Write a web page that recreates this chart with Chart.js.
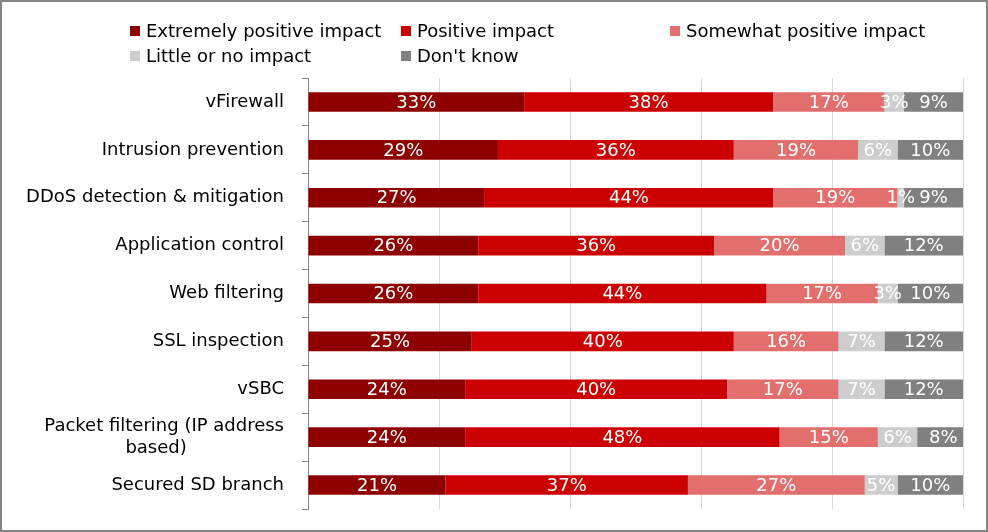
<!DOCTYPE html>
<html>
<head>
<meta charset="utf-8">
<script src="https://cdn.jsdelivr.net/npm/chart.js@4.4.1/dist/chart.umd.min.js"></script>
<style>
  body { margin: 0; background: #fff; }
  #wrap { position: relative; width: 988px; height: 532px; font-family: "DejaVu Sans", sans-serif; }
  #myChart { position: absolute; left: 0; top: 0; }
  #frame { position: absolute; left: 0; top: 0; right: 0; bottom: 0; border: 2px solid #858585; pointer-events: none; }
  .lg { position: absolute; font-size: 18px; color: #000; white-space: nowrap; line-height: 20px; }
  .lg i { position: absolute; left: -16px; top: 5px; width: 10px; height: 10px; }
</style>
</head>
<body>
<div id="wrap">
  <canvas id="myChart" width="988" height="532"></canvas>
  <div id="legend"></div>
  <div id="frame"></div>
</div>
<script>
// カテゴリ (y軸)
const categories = [
  'vFirewall',
  'Intrusion prevention',
  'DDoS detection & mitigation',
  'Application control',
  'Web filtering',
  'SSL inspection',
  'vSBC',
  ['Packet filtering (IP address', 'based)' + '\u00a0'.repeat(17)],
  'Secured SD branch',
];

// 系列名と値 (%)
const seriesNames = ['Extremely positive impact', 'Positive impact', 'Somewhat positive impact', 'Little or no impact', "Don't know"];
const extremelyPositive = [33, 29, 27, 26, 26, 25, 24, 24, 21];
const positive = [38, 36, 44, 36, 44, 40, 40, 48, 37];
const somewhatPositive = [17, 19, 19, 20, 17, 16, 17, 15, 27];
const littleOrNone = [3, 6, 1, 6, 3, 7, 7, 6, 5];
const dontKnow = [9, 10, 9, 12, 10, 12, 12, 8, 10];
const seriesColors = ['#8e0000', '#cc0000', '#e36e6e', '#cdcdcd', '#808080'];

const FONT = '"DejaVu Sans", sans-serif';

// バーの中央に白い%ラベルを描く
const barLabels = {
  id: 'barLabels',
  afterDatasetsDraw(chart) {
    const ctx = chart.ctx;
    ctx.save();
    ctx.font = '18px ' + FONT;
    ctx.fillStyle = '#fff';
    ctx.textAlign = 'center';
    ctx.textBaseline = 'middle';
    chart.data.datasets.forEach((ds, i) => {
      chart.getDatasetMeta(i).data.forEach((bar, j) => {
        const p = bar.getCenterPoint();
        ctx.fillText(ds.data[j] + '%', p.x, p.y + 1);
      });
    });
    ctx.restore();
  },
};

const data = {
  labels: categories,
  datasets: [extremelyPositive, positive, somewhatPositive, littleOrNone, dontKnow].map((v, i) => ({
    label: seriesNames[i],
    data: v,
    backgroundColor: seriesColors[i],
    borderWidth: 0,
    barPercentage: 0.41,
    categoryPercentage: 1,
  })),
};

const scales = {
  x: {
    stacked: true,
    min: 0,
    max: 100,
    ticks: { display: false, stepSize: 20 },
    border: { display: false },
    grid: { color: '#d9d9d9', lineWidth: 1, drawTicks: false },
    afterFit(s) { s.height = 0; s.paddingLeft = 0; s.paddingRight = 0; },
  },
  y: {
    stacked: true,
    offset: true,
    ticks: {
      color: '#000',
      padding: 18,
      font: { family: FONT, size: 18 },
    },
    border: { display: true, color: '#868686', width: 1 },
    grid: { offset: true, drawOnChartArea: false, drawTicks: true, tickLength: 6, color: '#868686' },
    afterFit(s) {
      s.width = 308;
      s.paddingTop = 0; // ラベル分の余白を消す
      s.paddingBottom = 0;
    },
  },
};

const config = {
  type: 'bar',
  data,
  options: {
    indexAxis: 'y',
    responsive: false,
    animation: false,
    layout: { padding: { top: 78, right: 25, bottom: 23, left: 0 } },
    scales: scales,
    plugins: {
      legend: { display: false }, // 凡例はHTMLで作る
      tooltip: { enabled: false },
    },
  },
  plugins: [barLabels],
};

const myChart = new Chart(document.getElementById('myChart'), config);

// 凡例 (3列グリッド)
const legendCols = [146, 417, 686];
const legendRows = [21, 46];
const legend = document.getElementById('legend');
seriesNames.forEach((name, i) => {
  const el = document.createElement('div');
  el.className = 'lg';
  el.style.left = legendCols[i % 3] + 'px';
  el.style.top = legendRows[Math.floor(i / 3)] + 'px';
  el.innerHTML = '<i style="background:' + seriesColors[i] + '"></i>' + name.replace("'", '&#39;');
  legend.appendChild(el);
});
</script>
</body>
</html>
